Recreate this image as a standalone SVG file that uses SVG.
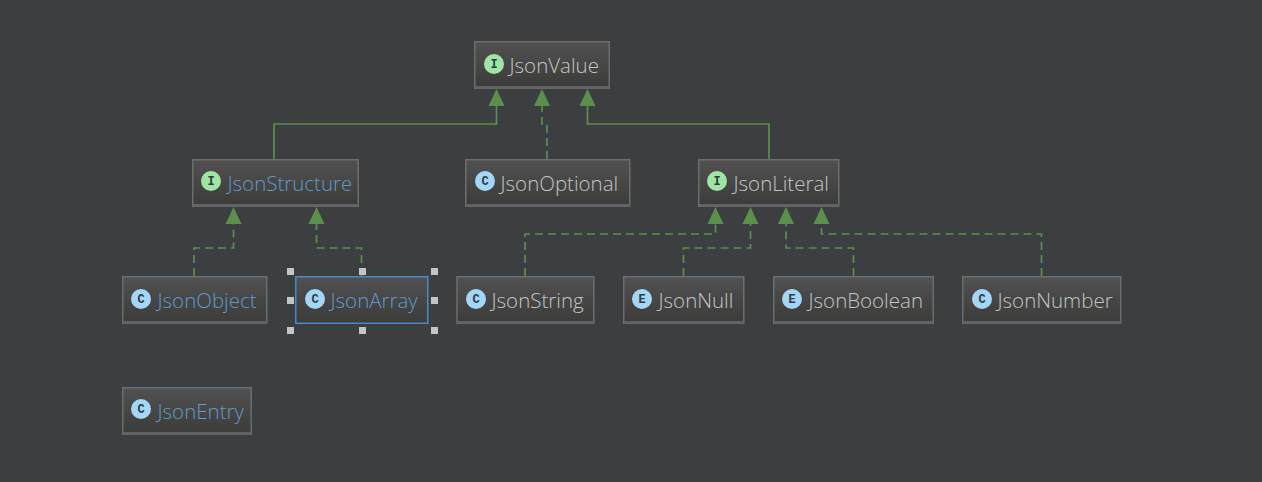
<svg xmlns="http://www.w3.org/2000/svg" width="1262" height="482" viewBox="0 0 1262 482">
<style>
.box{fill:url(#g);stroke:#6b6d6e;stroke-width:1.5}
.foot{fill:#5f6162}
.t{font-family:"Open Sans","Noto Sans",sans-serif;font-size:20.5px;font-weight:300;fill:#c4c4c4}
.b{fill:#6199c8}
.ic{font-family:"Liberation Mono",monospace;font-size:12px;font-weight:bold;fill:#2d3b42;text-anchor:middle}
.ci{fill:#a3d6f7}
.ii{fill:#9fe6a6}
.s{fill:none;stroke:#5c8f4b;stroke-width:1.7}
.d{stroke-dasharray:8 5}
.h{fill:#5c8f4b}
.sel{fill:#c4c4c4}
</style>
<defs>
<linearGradient id="g" x1="0" y1="0" x2="0" y2="1"><stop offset="0" stop-color="#515151"/><stop offset="1" stop-color="#3b3b3a"/></linearGradient>
</defs>
<rect width="1262" height="482" fill="#3c3f41"/>
<g id="connectors">
<path class="s" d="M274 159V124H496.500V106"/>
<path class="s d" d="M547 159V124H542V106"/>
<path class="s" d="M769 159V124H587.500V106"/>
<path class="s d" d="M194 276V248H233.500V224"/>
<path class="s d" d="M361.500 276V248H316.500V224"/>
<path class="s d" d="M525 276V234H715.500V224"/>
<path class="s d" d="M683.500 276V248H750.500V224"/>
<path class="s d" d="M853.500 276V248H786V224"/>
<path class="s d" d="M1041.500 276V234H821.500V224"/>
<polygon class="h" points="496.500,89 488.500,106 504.500,106"/>
<polygon class="h" points="542,89 534,106 550,106"/>
<polygon class="h" points="587.500,89 579.500,106 595.500,106"/>
<polygon class="h" points="233.500,207 225.500,224 241.500,224"/>
<polygon class="h" points="316.500,207 308.500,224 324.500,224"/>
<polygon class="h" points="715.500,207 707.500,224 723.500,224"/>
<polygon class="h" points="750.500,207 742.500,224 758.500,224"/>
<polygon class="h" points="786,207 778,224 794,224"/>
<polygon class="h" points="821.500,207 813.500,224 829.500,224"/>
</g>
<g id="JsonValue"><rect class="box" x="474.750" y="41.750" width="134.500" height="46.500"/><rect class="foot" x="475" y="86" width="134" height="2.500"/><circle class="ii" cx="494" cy="64" r="10"/><text class="ic" x="494" y="68">I</text><text class="t" x="509.500" y="72.500">JsonValue</text></g>
<g id="JsonStructure"><rect class="box" x="192.750" y="159.750" width="165.500" height="46.500"/><rect class="foot" x="193" y="204" width="165" height="2.500"/><circle class="ii" cx="211" cy="181" r="10"/><text class="ic" x="211" y="185">I</text><text class="t b" x="227.500" y="190.500">JsonStructure</text></g>
<g id="JsonOptional"><rect class="box" x="465.750" y="159.750" width="164" height="46.500"/><rect class="foot" x="466" y="204" width="164" height="2.500"/><circle class="ci" cx="485" cy="181" r="10"/><text class="ic" x="485" y="185">C</text><text class="t" x="500.500" y="190.500">JsonOptional</text></g>
<g id="JsonLiteral"><rect class="box" x="698.750" y="159.750" width="140" height="46.500"/><rect class="foot" x="699" y="204" width="140" height="2.500"/><circle class="ii" cx="717" cy="181" r="10"/><text class="ic" x="717" y="185">I</text><text class="t" x="733.500" y="190.500">JsonLiteral</text></g>
<g id="JsonObject"><rect class="box" x="122.750" y="276.750" width="144" height="46.500"/><rect class="foot" x="123" y="321" width="144" height="2.500"/><circle class="ci" cx="141" cy="299" r="10"/><text class="ic" x="141" y="303">C</text><text class="t b" x="157.500" y="307.500">JsonObject</text></g>
<g id="JsonArray"><rect class="box" x="295.750" y="276.750" width="132" height="46.500" style="stroke:#4a88c7"/><circle class="ci" cx="315" cy="299" r="10"/><text class="ic" x="315" y="303">C</text><text class="t b" x="330.500" y="307.500">JsonArray</text>
<rect class="sel" x="287" y="268" width="7" height="7"/><rect class="sel" x="359" y="268" width="7" height="7"/><rect class="sel" x="431" y="268" width="7" height="7"/><rect class="sel" x="287" y="297" width="7" height="7"/><rect class="sel" x="431" y="297" width="7" height="7"/><rect class="sel" x="287" y="327" width="7" height="7"/><rect class="sel" x="359" y="327" width="7" height="7"/><rect class="sel" x="431" y="327" width="7" height="7"/></g>
<g id="JsonString"><rect class="box" x="457" y="276.750" width="136.750" height="46.500"/><rect class="foot" x="457.500" y="321" width="136" height="2.500"/><circle class="ci" cx="476" cy="299" r="10"/><text class="ic" x="476" y="303">C</text><text class="t" x="491.500" y="307.500">JsonString</text></g>
<g id="JsonNull"><rect class="box" x="623.750" y="276.750" width="120" height="46.500"/><rect class="foot" x="624" y="321" width="120" height="2.500"/><circle class="ci" cx="642" cy="299" r="10"/><text class="ic" x="642" y="303">E</text><text class="t" x="658.500" y="307.500">JsonNull</text></g>
<g id="JsonBoolean"><rect class="box" x="773.750" y="276.750" width="159.500" height="46.500"/><rect class="foot" x="774" y="321" width="159" height="2.500"/><circle class="ci" cx="792" cy="299" r="10"/><text class="ic" x="792" y="303">E</text><text class="t" x="808.500" y="307.500">JsonBoolean</text></g>
<g id="JsonNumber"><rect class="box" x="962.750" y="276.750" width="158" height="46.500"/><rect class="foot" x="963" y="321" width="158" height="2.500"/><circle class="ci" cx="982" cy="299" r="10"/><text class="ic" x="982" y="303">C</text><text class="t" x="997.500" y="307.500">JsonNumber</text></g>
<g id="JsonEntry"><rect class="box" x="122.750" y="387.750" width="128.500" height="46.500"/><rect class="foot" x="123" y="432" width="128" height="2.500"/><circle class="ci" cx="141" cy="409" r="10"/><text class="ic" x="141" y="413">C</text><text class="t b" x="157.500" y="418.500">JsonEntry</text></g>
</svg>
